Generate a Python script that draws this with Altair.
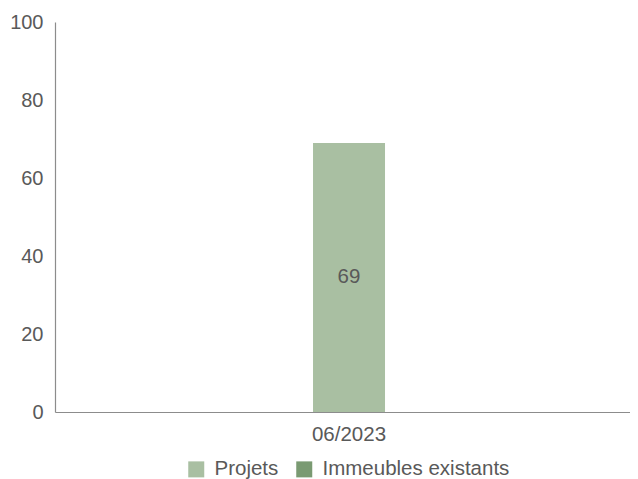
import altair as alt
import pandas as pd

categories = ["06/2023", "06/2023"]
series = ["Projets", "Immeubles existants"]
values = [69, 0]
colors = ["#a9bfa2", "#7a9a72"]

df = pd.DataFrame({"periode": categories, "serie": series, "valeur": values})
df["ordre"] = [0, 1]

font = "Liberation Sans"
txt = "#595959"

xscale = alt.Scale(paddingInner=0, paddingOuter=1, align=0.517)

base = alt.Chart(df)

bars = base.mark_bar(size=72).encode(
    x=alt.X("periode:N", title=None, scale=xscale,
            axis=alt.Axis(labelAngle=0, labelFontSize=20.5, labelColor=txt, labelFont=font,
                          ticks=False, domainColor="#8c8c8c", domainWidth=1.2, labelPadding=12)),
    y=alt.Y("valeur:Q", stack="zero", title=None,
            scale=alt.Scale(domain=[0, 100], nice=False),
            axis=alt.Axis(values=[0, 20, 40, 60, 80, 100], grid=False, ticks=False,
                          labelFontSize=20, labelColor=txt, labelFont=font,
                          domainColor="#8c8c8c", domainWidth=1.2, labelPadding=12)),
    color=alt.Color("serie:N", scale=alt.Scale(domain=series, range=colors), title=None,
                    legend=alt.Legend(orient="none", legendX=131, legendY=437, direction="horizontal",
                                      symbolType="square", symbolSize=256, symbolStrokeWidth=0,
                                      labelFontSize=20.5, labelColor=txt, labelFont=font,
                                      labelLimit=400, labelOffset=8, columnPadding=15, padding=0)),
    order=alt.Order("ordre:Q"),
)

labels = base.transform_filter(alt.datum.valeur > 0).transform_calculate(
    mid="datum.valeur / 2"
).mark_text(fontSize=20.5, color=txt, font=font).encode(
    x=alt.X("periode:N", scale=xscale),
    y=alt.Y("mid:Q"),
    text=alt.Text("valeur:Q"),
)

chart = alt.layer(bars, labels).properties(
    width=575, height=390,
    padding={"left": 47, "top": 14, "right": 0, "bottom": 75},
    autosize=alt.AutoSizeParams(type="none"),
).configure_view(stroke=None)

chart.save("out.html", embed_options={"renderer": "svg", "actions": False})
